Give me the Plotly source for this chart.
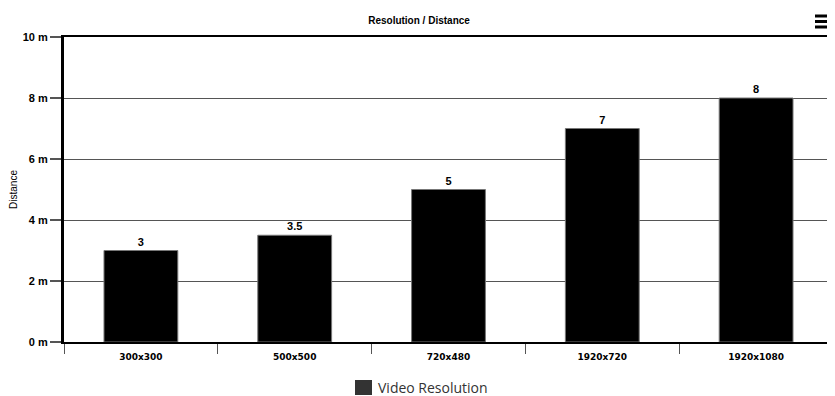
import plotly.graph_objects as go

resolutions = ['300x300', '500x500', '720x480', '1920x720', '1920x1080']
distance_m = [3, 3.5, 5, 7, 8]
y_ticks = [0, 2, 4, 6, 8, 10]
y_tick_text = ['0 m', '2 m', '4 m', '6 m', '8 m', '10 m']
series_name = 'Video Resolution'

NARROW = 'Liberation Sans Narrow, Arial Narrow, Liberation Sans, sans-serif'

# page body has an 8px margin, so the figure is 8px smaller than the window
fig = go.Figure()
fig.add_trace(go.Bar(
    x=resolutions, y=distance_m, width=0.48, name=series_name,
    marker=dict(color='#000000', line=dict(color='#777777', width=1)),
    text=[f'{v:g}' for v in distance_m], texttemplate='<b>%{text}</b>',
    textposition='outside',
    textfont=dict(family=NARROW, size=11, color='#000000'),
    cliponaxis=False, showlegend=False,
))

fig.update_layout(
    width=827, height=388,
    margin=dict(l=56, r=2, t=29, b=54, autoexpand=False),
    plot_bgcolor='white', paper_bgcolor='white',
    title=dict(text='<b>Resolution / Distance</b>', x=0.497, xanchor='center',
               yref='container', y=0.978, yanchor='top',
               font=dict(family=NARROW, size=10, color='#000000')),
    showlegend=False,
)
fig.update_xaxes(
    automargin=False,
    showline=True, linecolor='#000000', linewidth=2, mirror=True,
    ticks='outside', tickson='boundaries', ticklen=10, tickcolor='#555555', tickwidth=1,
    tickfont=dict(family='DejaVu Sans, Verdana, sans-serif', size=9, color='#000000'),
    tickprefix='<b>', ticksuffix='</b>', ticklabelstandoff=5,
    showgrid=False,
)
fig.update_yaxes(
    automargin=False,
    range=[0, 10], tickvals=y_ticks, ticktext=[f'<b>{t}</b>' for t in y_tick_text],
    showline=True, linecolor='#000000', linewidth=3, mirror=True,
    ticks='outside', ticklen=11, tickcolor='#555555', tickwidth=2,
    tickfont=dict(family=NARROW, size=11, color='#000000'),
    showgrid=True, gridcolor='#555555', gridwidth=1,
    title=dict(text='Distance', font=dict(family=NARROW, size=10, color='#000000'), standoff=13),
    zeroline=False,
)

# legend drawn by hand so the swatch matches the original size
fig.add_shape(type='rect', xref='paper', yref='paper',
              x0=(355 - 64) / 769, x1=(372 - 64) / 769,
              y0=(342 - 395) / 305, y1=(342 - 380) / 305,
              fillcolor='#333333', line=dict(width=0))
fig.add_annotation(text=series_name, xref='paper', yref='paper',
                   x=(376 - 64) / 769, y=(342 - 388) / 305,
                   xanchor='left', yanchor='middle', showarrow=False,
                   font=dict(family='Open Sans, DejaVu Sans, sans-serif', size=14, color='#333333'))

# menu icon in the top right corner
for py in [16, 21.5, 27]:
    fig.add_shape(type='line', xref='paper', yref='paper',
                  x0=(815 - 64) / 769, x1=(832 - 64) / 769,
                  y0=(342 - py) / 305, y1=(342 - py) / 305,
                  line=dict(color='#000000', width=3))

fig.write_html('out.html')
